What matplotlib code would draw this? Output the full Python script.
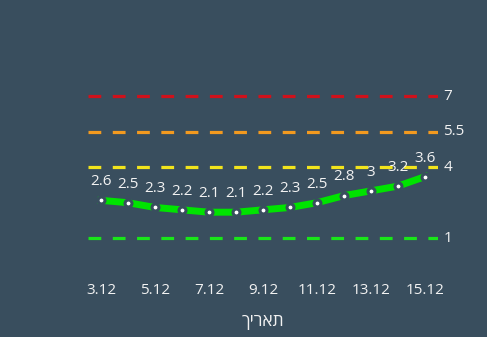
import matplotlib
matplotlib.use("Agg")
import matplotlib.pyplot as plt

plt.rcParams['font.family'] = ['Open Sans', 'DejaVu Sans']

days = [3, 4, 5, 6, 7, 8, 9, 10, 11, 12, 13, 14, 15]
values = [2.6, 2.5, 2.3, 2.2, 2.1, 2.1, 2.2, 2.3, 2.5, 2.8, 3, 3.2, 3.6]
tick_days = [3, 5, 7, 9, 11, 13, 15]
tick_labels = ["3.12", "5.12", "7.12", "9.12", "11.12", "13.12", "15.12"]
thresholds = [1, 4, 5.5, 7]
threshold_labels = ["1", "4", "5.5", "7"]
threshold_colors = ["#19e619", "#f2e41c", "#f39a1f", "#d0111b"]
xlabel = "תאריך"

bg = "#394e5e"
fg = "#f2f2f2"

fig = plt.figure(figsize=(4.87, 3.37), dpi=100, facecolor=bg)
ax = fig.add_axes([0.1797, 0.2226, 0.7207, 0.598])
ax.set_facecolor(bg)
ax.set_xlim(2.5, 15.5)
ax.set_ylim(0, 8.5)

for t, lab, c in zip(thresholds, threshold_labels, threshold_colors):
    ax.plot([2.5, 15.5], [t, t], color=c, lw=2.3, dashes=(4, 3.6), solid_capstyle='butt')
    ax.annotate(lab, xy=(1, t), xycoords=('axes fraction', 'data'), xytext=(3.5, 0),
                textcoords='offset points', va='center', ha='left', color=fg, fontsize=11)

ax.plot(days, values, color="#00e300", lw=5, marker='o', markersize=5,
        markerfacecolor='white', markeredgecolor=bg, markeredgewidth=2.2, zorder=5)

for d, v in zip(days, values):
    ax.annotate(f"{v:g}", xy=(d, v), xytext=(0, 8), textcoords='offset points',
                ha='center', va='bottom', color=fg, fontsize=11, zorder=6)

ax.set_xticks(tick_days)
ax.set_xticklabels(tick_labels, color=fg, fontsize=11)
ax.tick_params(axis='x', length=0, pad=15)
ax.set_yticks([])
for s in ax.spines.values():
    s.set_visible(False)
ax.set_xlabel(xlabel[::-1], color=fg, fontsize=12.5, labelpad=11.5)

fig.savefig("out.png", dpi=100, facecolor=bg)
